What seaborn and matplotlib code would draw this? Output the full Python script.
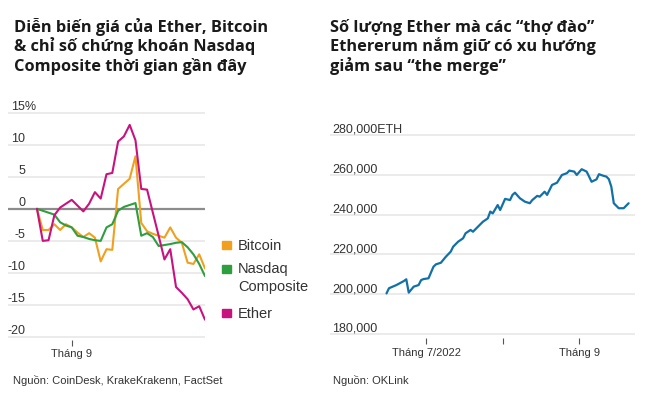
import pandas as pd
import matplotlib.pyplot as plt
import seaborn as sns

sns.set_theme(style='white')
plt.rcParams['font.family'] = ['Liberation Sans', 'DejaVu Sans']

# ---- left chart: % change, daily index (Tháng 9 = day 6)
ether_days = list(range(30))
ether = [0, -5.0, -4.9, -1.0, 0.2, 0.8, 1.4, 0.5, -0.4, 0.8, 2.6, 1.6, 5.4, 5.6, 10.5,
         11.3, 13.1, 10.7, 3.1, 3.0, -0.6, -4.2, -7.9, -6.3, -12.2, -13.1, -14.1, -15.7,
         -15.2, -17.3]
bitcoin_days = list(range(30))
bitcoin = [0, -3.3, -3.3, -2.4, -3.3, -2.4, -2.9, -3.7, -4.4, -3.8, -4.5, -8.2, -6.3,
           -6.4, 3.1, 3.9, 4.7, 8.2, -2.2, -3.5, -3.9, -4.2, -4.5, -2.9, -4.5, -5.3, -8.4,
           -8.6, -7.1, -9.3]
nasdaq_days = [0, 3, 4, 5, 6, 7, 8, 9, 10, 11, 12, 13, 14, 15, 16, 17, 18, 19, 20, 21,
               23, 24, 25, 26, 27, 28, 29]
nasdaq = [0, -0.9, -2.1, -2.6, -2.9, -4.2, -4.4, -4.7, -4.9, -5.0, -2.9, -2.4, -0.3, 0.3,
          0.6, 0.9, -4.2, -3.8, -4.4, -5.8, -5.5, -5.3, -5.2, -6.0, -7.1, -8.6, -10.5]
left_ticks = [15, 10, 5, 0, -5, -10, -15, -20]

# ---- right chart: ETH held by miners
eth_dates = ['2022-06-15', '2022-06-16', '2022-06-19', '2022-06-22', '2022-06-23',
             '2022-06-24', '2022-06-26', '2022-06-28', '2022-06-29', '2022-06-30',
             '2022-07-02', '2022-07-04', '2022-07-05', '2022-07-07', '2022-07-09',
             '2022-07-11', '2022-07-12', '2022-07-14', '2022-07-16', '2022-07-17',
             '2022-07-19', '2022-07-20', '2022-07-22', '2022-07-24', '2022-07-26',
             '2022-07-27', '2022-07-28', '2022-07-30', '2022-07-31', '2022-08-02',
             '2022-08-04', '2022-08-05', '2022-08-06', '2022-08-08', '2022-08-10',
             '2022-08-12', '2022-08-13', '2022-08-15', '2022-08-16', '2022-08-18',
             '2022-08-19', '2022-08-21', '2022-08-23', '2022-08-25', '2022-08-27',
             '2022-08-28', '2022-08-30', '2022-08-31', '2022-09-02', '2022-09-04',
             '2022-09-05', '2022-09-06', '2022-09-08', '2022-09-09', '2022-09-11',
             '2022-09-12', '2022-09-13', '2022-09-14', '2022-09-15', '2022-09-17',
             '2022-09-19', '2022-09-21']
eth_held = [200400, 203000, 204600, 206600, 207500, 200800, 203800, 204600, 207100,
            207600, 208000, 213800, 215000, 215800, 218800, 221400, 223900, 226400,
            228100, 230600, 232300, 231400, 233900, 236400, 238100, 241500, 240600,
            244800, 242300, 247900, 247300, 249900, 251000, 248200, 246500, 245700,
            247300, 249400, 249000, 251500, 249900, 254900, 256000, 259900, 260800,
            262100, 261600, 259900, 262800, 261600, 259100, 256500, 257700, 260300,
            259400, 259100, 257800, 254000, 245700, 243200, 243200, 245700]
right_ticks = [280000, 260000, 240000, 220000, 200000, 180000]

W, H = 645, 397
fig = plt.figure(figsize=(W / 100, H / 100), dpi=100)

grid_c = '#e6e6e6'
txt_c = '#333333'

# ---------------- left
ax1 = fig.add_axes([8 / W, 1 - 340.2 / H, 197 / W, 230.7 / H])
for v in left_ticks:
    ax1.axhline(v, color=grid_c, lw=1.1, zorder=0)
ax1.axhline(0, color='#8c8c8c', lw=1.6, zorder=1)
sns.lineplot(x=bitcoin_days, y=bitcoin, color='#f0a01e', lw=1.5, ax=ax1, zorder=3)
sns.lineplot(x=nasdaq_days, y=nasdaq, color='#2f9e3f', lw=1.5, ax=ax1, zorder=3)
sns.lineplot(x=ether_days, y=ether, color='#c8127e', lw=1.5, ax=ax1, zorder=4)
ax1.set_xlim(-5, 29)
ax1.set_ylim(-20.5, 15.5)
ax1.set_xticks([6])
ax1.set_xticklabels(['Tháng 9'])
ax1.set_yticks([])
ax1.set_xlabel('')
ax1.set_ylabel('')
ax1.tick_params(axis='x', length=4, width=0.8, color='#555555', pad=2,
                labelsize=8, labelcolor=txt_c, bottom=True)
for s in ax1.spines.values():
    s.set_visible(False)
for v in left_ticks:
    if v == 15:
        # top label carries the unit, digits aligned with the others
        ax1.annotate('15%', xy=(0.0152, v), xycoords=ax1.get_yaxis_transform(),
                     xytext=(0, 2), textcoords='offset points', ha='left',
                     va='baseline', fontsize=9, color=txt_c)
        continue
    ax1.annotate(str(v), xy=(0.0863, v), xycoords=ax1.get_yaxis_transform(),
                 xytext=(0, 2), textcoords='offset points', ha='right', va='baseline',
                 fontsize=9, color=txt_c)

# legend
leg = [('#f0a01e', ['Bitcoin'], 245), ('#2f9e3f', ['Nasdaq', 'Composite'], 269),
       ('#c8127e', ['Ether'], 313)]
for col, lines, yc in leg:
    fig.patches.append(plt.Rectangle((222 / W, 1 - (yc + 4) / H), 8.5 / W, 8 / H,
                                     transform=fig.transFigure, color=col))
    for i, t in enumerate(lines):
        fig.text(238 / W, 1 - (yc + 4.5 + i * 17.5) / H, t, fontsize=10.5,
                 color=txt_c, va='baseline', ha='left')

# ---------------- right
ax2 = fig.add_axes([330 / W, 1 - 338 / H, 305 / W, 207 / H])
for v in right_ticks:
    ax2.axhline(v, color=grid_c, lw=1.1, zorder=0)
sns.lineplot(x=pd.to_datetime(eth_dates), y=eth_held, color='#1170a8', lw=1.6, ax=ax2)
ax2.set_xlim(pd.Timestamp('2022-05-23 03:00'), pd.Timestamp('2022-09-23 14:00'))
ax2.set_ylim(178000, 282000)
ax2.set_xticks(pd.to_datetime(['2022-07-01', '2022-08-01', '2022-09-01']))
ax2.set_xticklabels(['Tháng 7/2022', '', 'Tháng 9'])
ax2.set_yticks([])
ax2.set_xlabel('')
ax2.set_ylabel('')
ax2.tick_params(axis='x', length=4, width=0.8, color='#555555', pad=3,
                labelsize=8, labelcolor=txt_c, bottom=True)
for s in ax2.spines.values():
    s.set_visible(False)
for v in right_ticks:
    lab = f'{v:,}' + ('ETH' if v == 280000 else '')
    ax2.annotate(lab, xy=(0.007, v), xycoords=ax2.get_yaxis_transform(),
                 xytext=(0, 1.5), textcoords='offset points', ha='left', va='baseline',
                 fontsize=9, color=txt_c)

# ---------------- titles and sources
title_font = ['Open Sans', 'DejaVu Sans']
t1 = ['Diễn biến giá của Ether, Bitcoin', '& chỉ số chứng khoán Nasdaq',
      'Composite thời gian gần đây']
t2 = ['Số lượng Ether mà các “thợ đào”', 'Ethererum nắm giữ có xu hướng',
      'giảm sau “the merge”']
for i, (a, b) in enumerate(zip(t1, t2)):
    yb = 1 - (31.7 + i * 19.7) / H
    fig.text(14 / W, yb, a, fontsize=11.8, fontweight='bold', family=title_font,
             color='#1a1a1a', va='baseline')
    fig.text(330 / W, yb, b, fontsize=11.8, fontweight='bold', family=title_font,
             color='#1a1a1a', va='baseline')

fig.text(13 / W, 1 - 384 / H, 'Nguồn: CoinDesk, KrakeKrakenn, FactSet', fontsize=8,
         color=txt_c, va='baseline')
fig.text(333 / W, 1 - 384 / H, 'Nguồn: OKLink', fontsize=8, color=txt_c, va='baseline')

fig.savefig('out.png', dpi=100)
